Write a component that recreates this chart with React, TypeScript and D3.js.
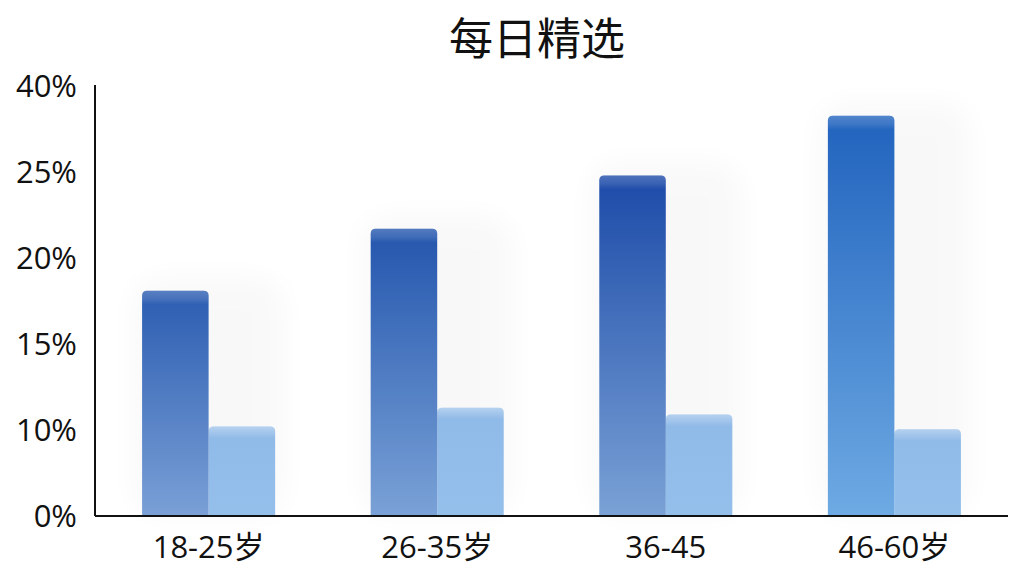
import React from "react";
import * as d3 from "d3";

const title = "每日精选";
const categories = ["18-25岁", "26-35岁", "36-45", "46-60岁"];
const seriesA = [18.1, 21.7, 24.8, 34.8];
const seriesB = [10.2, 11.3, 10.9, 10.05];
const tickValues = [0, 10, 15, 20, 25, 40];
const tickLabels = ["0%", "10%", "15%", "20%", "25%", "40%"];

const W = 1024;
const H = 576;
const FONT = "'Open Sans', 'Noto Sans CJK SC', sans-serif";
const TITLE_FONT = "'Noto Sans CJK SC', sans-serif";

const darkTop = ["#2b5cb1", "#2355ad", "#1c4aa8", "#2163be"];
const darkBottom = ["#7aa0d6", "#7aa2d7", "#7aa2d6", "#6eaae3"];

function topRoundedRect(x: number, y: number, w: number, h: number, r: number) {
  const p = d3.path();
  p.moveTo(x, y + h);
  p.lineTo(x, y + r);
  p.quadraticCurveTo(x, y, x + r, y);
  p.lineTo(x + w - r, y);
  p.quadraticCurveTo(x + w, y, x + w, y + r);
  p.lineTo(x + w, y + h);
  p.closePath();
  return p.toString();
}

export default function App() {
  const x0 = 95;
  const x1 = 1008;
  const yBase = 516;
  const yTop = 86;

  const y = d3
    .scaleLinear()
    .domain(tickValues)
    .range(tickValues.map((_, i) => yBase - ((yBase - yTop) * i) / (tickValues.length - 1)));

  const x = d3
    .scaleBand<string>()
    .domain(categories)
    .range([x0, x1])
    .paddingInner(0.418)
    .paddingOuter(0.206);

  const sub = d3
    .scaleBand<string>()
    .domain(["a", "b"])
    .range([0, x.bandwidth()]);

  return (
    <svg
      width={W}
      height={H}
      style={{ position: "absolute", left: 0, top: 0, background: "#fff" }}
      fontFamily={FONT}
    >
      <defs>
        {categories.map((_, i) => (
          <linearGradient key={i} id={`gA${i}`} x1="0" y1="0" x2="0" y2="1">
            <stop offset="0" stopColor={darkTop[i]} />
            <stop offset="1" stopColor={darkBottom[i]} />
          </linearGradient>
        ))}
        <linearGradient id="gB" x1="0" y1="0" x2="0" y2="1">
          <stop offset="0" stopColor="#8fb9e7" />
          <stop offset="1" stopColor="#95bfeb" />
        </linearGradient>
        <linearGradient id="hiA" x1="0" y1="0" x2="0" y2="1">
          <stop offset="0" stopColor="#ffffff" stopOpacity={0.22} />
          <stop offset="0.6" stopColor="#ffffff" stopOpacity={0.12} />
          <stop offset="1" stopColor="#ffffff" stopOpacity={0} />
        </linearGradient>
        <linearGradient id="hiB" x1="0" y1="0" x2="0" y2="1">
          <stop offset="0" stopColor="#ffffff" stopOpacity={0.35} />
          <stop offset="1" stopColor="#ffffff" stopOpacity={0} />
        </linearGradient>
        <filter id="glow" x="-50%" y="-20%" width="200%" height="140%">
          <feGaussianBlur stdDeviation="14" />
        </filter>
      </defs>

      <text
        x={537}
        y={55}
        textAnchor="middle"
        fontSize={44}
        fontFamily={TITLE_FONT}
        fill="#111"
      >
        {title}
      </text>

      {categories.map((c, i) => {
        const bx = x(c)!;
        const yA = y(seriesA[i]);
        return (
          <rect
            key={`glow${i}`}
            x={bx - 10}
            y={yA - 14}
            width={x.bandwidth() + 20}
            height={yBase - yA + 14}
            rx={30}
            fill="#000"
            opacity={0.022}
            filter="url(#glow)"
          />
        );
      })}

      {categories.map((c, i) => {
        const bx = x(c)!;
        const w = sub.bandwidth();
        const xa = bx + sub("a")!;
        const xb = bx + sub("b")!;
        const ya = y(seriesA[i]);
        const yb = y(seriesB[i]);
        return (
          <g key={c}>
            <path d={topRoundedRect(xb, yb, w, yBase - yb, 5)} fill="url(#gB)" />
            <path
              d={topRoundedRect(xb, yb, w, Math.min(12, yBase - yb), 5)}
              fill="url(#hiB)"
            />
            <path d={topRoundedRect(xa, ya, w, yBase - ya, 5)} fill={`url(#gA${i})`} />
            <path
              d={topRoundedRect(xa, ya, w, Math.min(14, yBase - ya), 5)}
              fill="url(#hiA)"
            />
          </g>
        );
      })}

      <line x1={x0} x2={x0} y1={yTop - 1} y2={yBase} stroke="#111" strokeWidth={2} />
      <line x1={x0} x2={x1} y1={yBase} y2={yBase} stroke="#111" strokeWidth={2} />

      {tickValues.map((v, i) => (
        <text
          key={v}
          x={77}
          y={y(v)}
          dy="0.36em"
          textAnchor="end"
          fontSize={31}
          fill="#111"
        >
          {tickLabels[i]}
        </text>
      ))}

      {categories.map((c) => (
        <text
          key={c}
          x={x(c)! + x.bandwidth() / 2}
          y={558}
          textAnchor="middle"
          fontSize={31}
          fill="#111"
        >
          {c}
        </text>
      ))}
    </svg>
  );
}
